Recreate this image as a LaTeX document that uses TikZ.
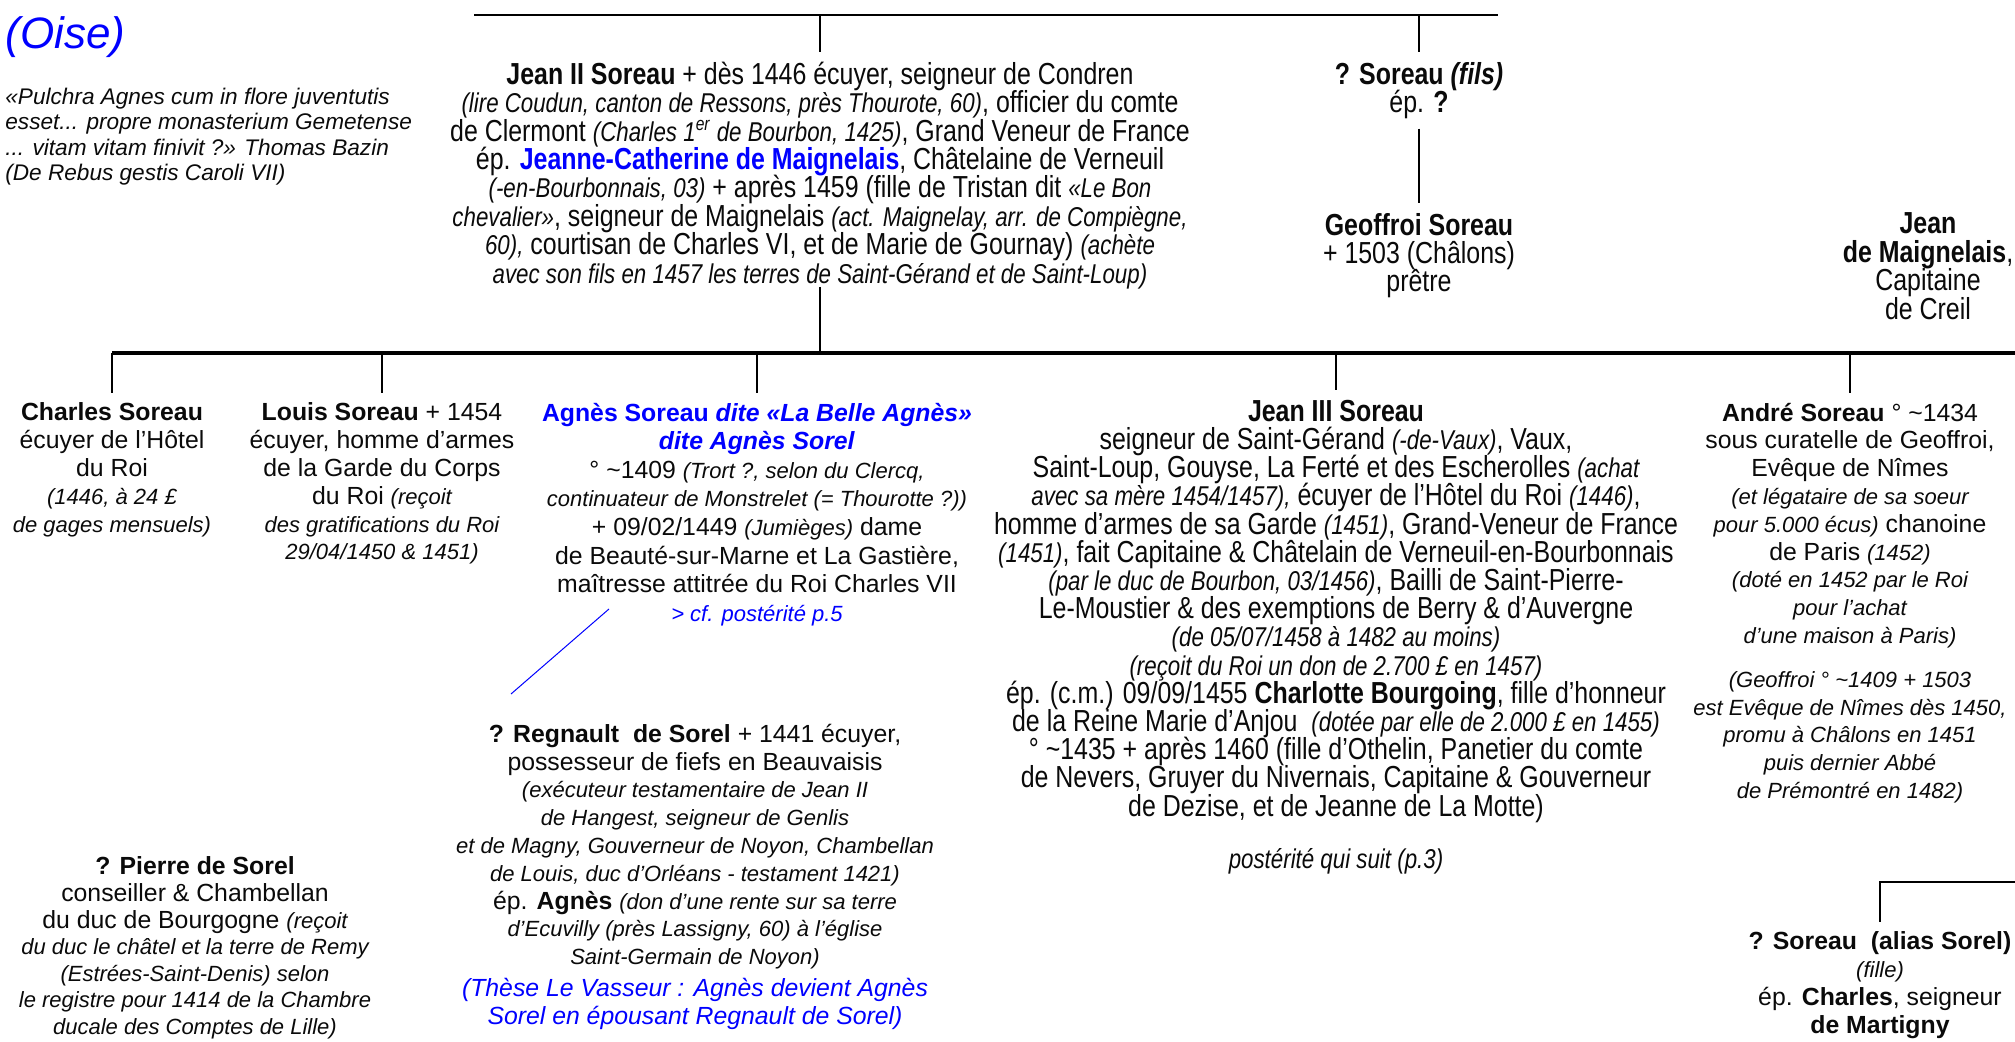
\documentclass[tikz,border=0pt]{standalone}
\usepackage{fontspec}
\setmainfont{Liberation Sans}
\newfontfamily\narrowfont[FakeStretch=0.82]{Liberation Sans}
\usetikzlibrary{positioning}
\definecolor{linkblue}{RGB}{0, 0, 255}
\definecolor{inkgray}{RGB}{10, 10, 10}

%% inline asides: italic, one step smaller than the running text
\newcommand{\asideA}[1]{{\fontsize{11}{13.9}\selectfont\itshape #1}}
\newcommand{\asideN}[1]{{\fontsize{13.6}{14.2}\selectfont\itshape #1}}
%% fixed line pitch, whatever the glyphs of a line
\newcommand{\tightlines}{\lineskiplimit=-100pt\lineskip=0pt}

\begin{document}
\begin{tikzpicture}[
        x=0.5pt, y=-0.5pt,
        person/.style={align=center, inner sep=0pt, outer ysep=5pt, anchor=north, text=inkgray,
                       font=\fontsize{12.4}{13.9}\selectfont},
        elder/.style={person, font=\narrowfont\fontsize{15.2}{14.2}\selectfont\tightlines},
        remark/.style={align=left, inner sep=0pt, anchor=north west, text=inkgray,
                       font=\fontsize{11.3}{12.6}\selectfont\itshape},
        famline/.style={draw=black, line width=1.2pt},
        kinline/.style={draw=black, line width=0.8pt},
        trunkline/.style={draw=black, line width=2pt},
        hintline/.style={draw=linkblue, line width=0.5pt}
    ]
    \useasboundingbox (0,0) rectangle (2015,1042);

    %% --- Page head, left column ---
    \node[remark, font=\fontsize{22}{24}\selectfont\itshape, text=linkblue] (oise) at (5, 16) {(Oise)};
    \node[remark] (quote) at (5, 88)
        {«Pulchra Agnes cum in flore juventutis\\
         esset... propre monasterium Gemetense\\
         ... vitam vitam finivit ?» Thomas Bazin\\
         (De Rebus gestis Caroli VII)};

    %% --- Parents' generation (bars at y=15) ---
    \coordinate (topbarL) at (474, 15);
    \coordinate (topbarR) at (1498, 15);

    \node[elder] (jean2) at (820, 52)
        {\textbf{Jean II Soreau} + dès 1446 écuyer, seigneur de Condren\\
         \asideN{(lire Coudun, canton de Ressons, près Thourote, 60)}, officier du comte\\
         de Clermont \asideN{(Charles 1\textsuperscript{er} de Bourbon, 1425)}, Grand Veneur de France\\
         ép. \textcolor{linkblue}{\textbf{Jeanne-Catherine de Maignelais}}, Châtelaine de Verneuil\\
         \asideN{(-en-Bourbonnais, 03)} + après 1459 (fille de Tristan dit \asideN{«Le Bon}\\
         \asideN{chevalier»}, seigneur de Maignelais \asideN{(act. Maignelay, arr. de Compiègne,}\\
         \asideN{60),} courtisan de Charles VI, et de Marie de Gournay) \asideN{(achète}\\
         \asideN{avec son fils en 1457 les terres de Saint-Gérand et de Saint-Loup)}};

    \node[elder] (sorfils) at (1419, 52)
        {\textbf{? Soreau \textit{(fils)}}\\ ép. \textbf{?}};
    \node[elder] (geoffroi) at (1419, 203)
        {\textbf{Geoffroi Soreau}\\ + 1503 (Châlons)\\ prêtre};
    \node[elder] (maignelais) at (1928, 203)
        {\textbf{Jean}\\ \textbf{de Maignelais},\\ Capitaine\\ de Creil};

    \draw[famline] (topbarL) -- (topbarR);
    \draw[famline] (jean2.north |- topbarL) -- (jean2.north);
    \draw[famline] (sorfils.north |- topbarL) -- (sorfils.north);
    \draw[famline] (sorfils.south) -- (geoffroi.north);

    %% --- Children of Jean II (trunk at y=353) ---
    \coordinate (midbarL) at (112, 353);
    \coordinate (midbarR) at (2015, 353);

    \node[person] (charles) at (112, 393)
        {\textbf{Charles Soreau}\\ écuyer de l’Hôtel\\ du Roi\\
         \asideA{(1446, à 24 £}\\ \asideA{de gages mensuels)}};

    \node[person] (louis) at (382, 393)
        {\textbf{Louis Soreau} + 1454\\ écuyer, homme d’armes\\ de la Garde du Corps\\
         du Roi \asideA{(reçoit}\\ \asideA{des gratifications du Roi}\\ \asideA{29/04/1450 \& 1451)}};

    \node[person, font=\fontsize{12.4}{14.3}\selectfont] (agnes) at (757, 393)
        {\textcolor{linkblue}{\textbf{Agnès Soreau \textit{dite «La Belle Agnès»}}}\\
         \textcolor{linkblue}{\textbf{\textit{dite Agnès Sorel}}}\\
         ° \textasciitilde1409 \asideA{(Trort ?, selon du Clercq,}\\
         \asideA{continuateur de Monstrelet (= Thourotte ?))}\\
         + 09/02/1449 \asideA{(Jumièges)} dame\\
         de Beauté-sur-Marne et La Gastière,\\
         maîtresse attitrée du Roi Charles VII\\
         \textcolor{linkblue}{\asideA{> cf. postérité p.5}}};

    \node[elder, font=\narrowfont\fontsize{15.2}{14.1}\selectfont\tightlines] (jean3) at (1336, 390)
        {\textbf{Jean III Soreau}\\
         seigneur de Saint-Gérand \asideN{(-de-Vaux)}, Vaux,\\
         Saint-Loup, Gouyse, La Ferté et des Escherolles \asideN{(achat}\\
         \asideN{avec sa mère 1454/1457),} écuyer de l’Hôtel du Roi \asideN{(1446)},\\
         homme d’armes de sa Garde \asideN{(1451)}, Grand-Veneur de France\\
         \asideN{(1451)}, fait Capitaine \& Châtelain de Verneuil-en-Bourbonnais\\
         \asideN{(par le duc de Bourbon, 03/1456)}, Bailli de Saint-Pierre-\\
         Le-Moustier \& des exemptions de Berry \& d’Auvergne\\
         \asideN{(de 05/07/1458 à 1482 au moins)}\\
         \asideN{(reçoit du Roi un don de 2.700 £ en 1457)}\\
         ép. (c.m.) 09/09/1455 \textbf{Charlotte Bourgoing}, fille d’honneur\\
         de la Reine Marie d’Anjou\ \ \asideN{(dotée par elle de 2.000 £ en 1455)}\\
         ° \textasciitilde1435 + après 1460 (fille d’Othelin, Panetier du comte\\
         de Nevers, Gruyer du Nivernais, Capitaine \& Gouverneur\\
         de Dezise, et de Jeanne de La Motte)\\[12pt]
         \asideN{postérité qui suit (p.3)}};

    \node[person] (andre) at (1850, 393)
        {\textbf{André Soreau} ° \textasciitilde1434\\
         sous curatelle de Geoffroi,\\
         Evêque de Nîmes\\
         \asideA{(et légataire de sa soeur}\\
         \asideA{pour 5.000 écus)} chanoine\\
         de Paris \asideA{(1452)}\\
         \asideA{(doté en 1452 par le Roi}\\
         \asideA{pour l’achat}\\
         \asideA{d’une maison à Paris)}\\[8pt]
         \asideA{(Geoffroi ° \textasciitilde1409 + 1503}\\
         \asideA{est Evêque de Nîmes dès 1450,}\\
         \asideA{promu à Châlons en 1451}\\
         \asideA{puis dernier Abbé}\\
         \asideA{de Prémontré en 1482)}};

    \draw[trunkline] (midbarL) -- (midbarR);
    \draw[kinline] ([yshift=6pt]jean2.south) -- (jean2.south |- midbarL);
    \draw[kinline] (charles.north |- midbarL) -- (charles.north);
    \draw[kinline] (louis.north |- midbarL) -- (louis.north);
    \draw[kinline] (agnes.north |- midbarL) -- (agnes.north);
    \draw[kinline] (jean3.north |- midbarL) -- (jean3.north);
    \draw[kinline] (andre.north |- midbarL) -- (andre.north);

    %% --- The Sorel side, lower part ---
    \node[person] (regnault) at (695, 714)
        {\textbf{? Regnault\ \ de Sorel} + 1441 écuyer,\\
         possesseur de fiefs en Beauvaisis\\
         \asideA{(exécuteur testamentaire de Jean II}\\
         \asideA{de Hangest, seigneur de Genlis}\\
         \asideA{et de Magny, Gouverneur de Noyon, Chambellan}\\
         \asideA{de Louis, duc d’Orléans - testament 1421)}\\
         ép. \textbf{Agnès} \asideA{(don d’une rente sur sa terre}\\
         \asideA{d’Ecuvilly (près Lassigny, 60) à l’église}\\
         \asideA{Saint-Germain de Noyon)}\\[2pt]
         \textcolor{linkblue}{\itshape(Thèse Le Vasseur : Agnès devient Agnès}\\
         \textcolor{linkblue}{\itshape Sorel en épousant Regnault de Sorel)}};

    \node[person, font=\fontsize{12.4}{13.3}\selectfont] (pierre) at (195, 847)
        {\textbf{? Pierre de Sorel}\\
         conseiller \& Chambellan\\
         du duc de Bourgogne \asideA{(reçoit}\\
         \asideA{du duc le châtel et la terre de Remy}\\
         \asideA{(Estrées-Saint-Denis) selon}\\
         \asideA{le registre pour 1414 de la Chambre}\\
         \asideA{ducale des Comptes de Lille)}};

    \coordinate (agnesHint) at (609, 609);
    \coordinate (regnaultHint) at (511, 694);
    \draw[hintline] (agnesHint) -- (regnaultHint);

    %% --- Bottom right corner ---
    \coordinate (lowbarR) at (2015, 882);
    \node[person] (sorelfille) at (1880, 922)
        {\textbf{? Soreau\ \ (alias Sorel)}\\ \asideA{(fille)}\\
         ép. \textbf{Charles}, seigneur\\ \textbf{de Martigny}};
    \draw[famline] (lowbarR) -| (sorelfille.north);

\end{tikzpicture}
\end{document}
